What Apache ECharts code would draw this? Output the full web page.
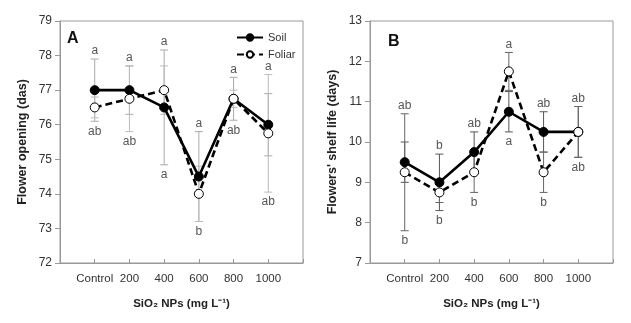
<!DOCTYPE html>
<html><head><meta charset="utf-8">
<script src="https://cdn.jsdelivr.net/npm/echarts@6/dist/echarts.min.js"></script>
<style>html,body{margin:0;background:#fff}#c{width:631px;height:323px}</style>
</head><body><div id="c"></div>
<script>
const categories = ['Control', '200', '400', '600', '800', '1000'];

// Panel A: Flower opening (das)
const soilA = [77, 77, 76.5, 74.5, 76.75, 76];
const foliarA = [76.5, 76.75, 77, 74, 76.75, 75.75];
const soilErrA = [0.9, 0.7, 1.66, 1.3, 0.62, 0.9];
const foliarErrA = [0.3, 0.95, 0.7, 0.8, 0.25, 1.7];
const topLettersA = ['a', 'a', 'a', 'a', 'a', 'a'];
const bottomLettersA = ['ab', 'ab', 'a', 'b', 'ab', 'ab'];
const yTicksA = [72, 73, 74, 75, 76, 77, 78, 79];

// Panel B: Flowers' shelf life (days)
const soilB = [9.5, 9.0, 9.75, 10.75, 10.25, 10.25];
const foliarB = [9.25, 8.75, 9.25, 11.75, 9.25, 10.25];
const soilErrB = [0.5, 0.7, 0.5, 0.5, 0.5, 0.63];
const foliarErrB = [1.45, 0.25, 0.5, 0.47, 0.5, 0.63];
const topLettersB = ['ab', 'b', 'ab', 'a', 'ab', 'ab'];
const bottomLettersB = ['b', 'b', 'b', 'a', 'b', 'ab'];
const yTicksB = [7, 8, 9, 10, 11, 12, 13];

const FONT = '"Liberation Sans", Arial, sans-serif';
const chart = echarts.init(document.getElementById('c'), null, {renderer: 'canvas'});

function pos(i) { return i + 1; }

function errSeries(vals, errs, idx, color) {
  return {
    type: 'custom', xAxisIndex: idx, yAxisIndex: idx, silent: true, z: 1,
    data: vals.map((v, i) => [pos(i), v, errs[i]]),
    renderItem: function (params, api) {
      const x = api.value(0), y = api.value(1), e = api.value(2);
      const hi = api.coord([x, y + e]), lo = api.coord([x, y - e]);
      const w = 4;
      const st = {stroke: color, lineWidth: 1, fill: null};
      return {type: 'group', children: [
        {type: 'line', shape: {x1: hi[0], y1: hi[1], x2: lo[0], y2: lo[1]}, style: st},
        {type: 'line', shape: {x1: hi[0] - w, y1: hi[1], x2: hi[0] + w, y2: hi[1]}, style: st},
        {type: 'line', shape: {x1: lo[0] - w, y1: lo[1], x2: lo[0] + w, y2: lo[1]}, style: st}
      ]};
    }
  };
}

function letterSeries(s, se, f, fe, tops, bottoms, idx) {
  return {
    type: 'custom', xAxisIndex: idx, yAxisIndex: idx, silent: true, z: 1,
    data: s.map((v, i) => [pos(i), Math.max(v + se[i], f[i] + fe[i]), Math.min(v - se[i], f[i] - fe[i])]),
    renderItem: function (params, api) {
      const x = api.value(0);
      const hi = api.coord([x, api.value(1)]), lo = api.coord([x, api.value(2)]);
      const i = params.dataIndex;
      const ts = {fill: '#555', fontSize: 12, fontFamily: FONT, textAlign: 'center', textVerticalAlign: 'middle'};
      return {type: 'group', children: [
        {type: 'text', x: hi[0], y: hi[1] - 8, style: Object.assign({text: tops[i]}, ts)},
        {type: 'text', x: lo[0], y: lo[1] + 10, style: Object.assign({text: bottoms[i]}, ts)}
      ]};
    }
  };
}

function lineSeries(name, vals, idx, dashed) {
  return {
    name: name, type: 'line', xAxisIndex: idx, yAxisIndex: idx,
    data: vals.map((v, i) => [pos(i), v]),
    symbol: 'circle', symbolSize: 9, z: dashed ? 4 : 3,
    lineStyle: {color: '#000', width: 2.6, type: dashed ? [7, 4] : 'solid'},
    itemStyle: dashed ? {color: '#fff', borderColor: '#000', borderWidth: 1} : {color: '#000', borderColor: '#000', borderWidth: 1},
    animation: false
  };
}

function xAxis(idx) {
  return {
    type: 'value', gridIndex: idx, min: 0, max: 7, interval: 1,
    name: 'SiO\u2082 NPs (mg L\u207B\u00B9)', nameLocation: 'middle', nameGap: 35,
    nameTextStyle: {fontFamily: FONT, fontSize: 11.5, fontWeight: 'bold', color: '#222'},
    axisLine: {lineStyle: {color: '#999'}},
    axisTick: {inside: true, length: 4, lineStyle: {color: '#999'}},
    splitLine: {show: false},
    axisLabel: {fontFamily: FONT, fontSize: 11.5, color: '#333', margin: 10,
      formatter: v => (v >= 1 && v <= categories.length) ? categories[v - 1] : ''}
  };
}

function yAxis(idx, ticks, name) {
  return {
    type: 'value', gridIndex: idx, min: ticks[0], max: ticks[ticks.length - 1], interval: 1,
    name: name, nameLocation: 'middle', nameGap: 31,
    nameTextStyle: {fontFamily: FONT, fontSize: 12.5, fontWeight: 'bold', color: '#222'},
    axisLine: {show: true, lineStyle: {color: '#999'}},
    axisTick: {show: true, length: 5, lineStyle: {color: '#999'}},
    splitLine: {show: false},
    axisLabel: {fontFamily: FONT, fontSize: 12, color: '#333', margin: 8}
  };
}

chart.setOption({
  animation: false,
  backgroundColor: '#fff',
  grid: [
    {left: 60, top: 21, width: 243, height: 242, show: true, borderColor: '#999', borderWidth: 1},
    {left: 370, top: 21, width: 243, height: 242, show: true, borderColor: '#999', borderWidth: 1}
  ],
  xAxis: [xAxis(0), xAxis(1)],
  yAxis: [yAxis(0, yTicksA, 'Flower opening (das)'), yAxis(1, yTicksB, "Flowers' shelf life (days)")],
  legend: {
    data: ['Soil', 'Foliar'], orient: 'vertical', left: 231, top: 27,
    itemWidth: 26, itemHeight: 8, itemGap: 6,
    textStyle: {fontFamily: FONT, fontSize: 11, color: '#333'}
  },
  graphic: [
    {type: 'text', left: 67, top: 31, style: {text: 'A', fontFamily: FONT, fontSize: 16, fontWeight: 'bold', fill: '#111'}},
    {type: 'text', left: 388, top: 34, style: {text: 'B', fontFamily: FONT, fontSize: 16, fontWeight: 'bold', fill: '#111'}}
  ],
  series: [
    errSeries(soilA, soilErrA, 0, '#aaa'),
    errSeries(foliarA, foliarErrA, 0, '#bbb'),
    letterSeries(soilA, soilErrA, foliarA, foliarErrA, topLettersA, bottomLettersA, 0),
    lineSeries('Soil', soilA, 0, false),
    lineSeries('Foliar', foliarA, 0, true),
    errSeries(soilB, soilErrB, 1, '#555'),
    errSeries(foliarB, foliarErrB, 1, '#666'),
    letterSeries(soilB, soilErrB, foliarB, foliarErrB, topLettersB, bottomLettersB, 1),
    lineSeries('Soil', soilB, 1, false),
    lineSeries('Foliar', foliarB, 1, true)
  ]
});
</script></body></html>
